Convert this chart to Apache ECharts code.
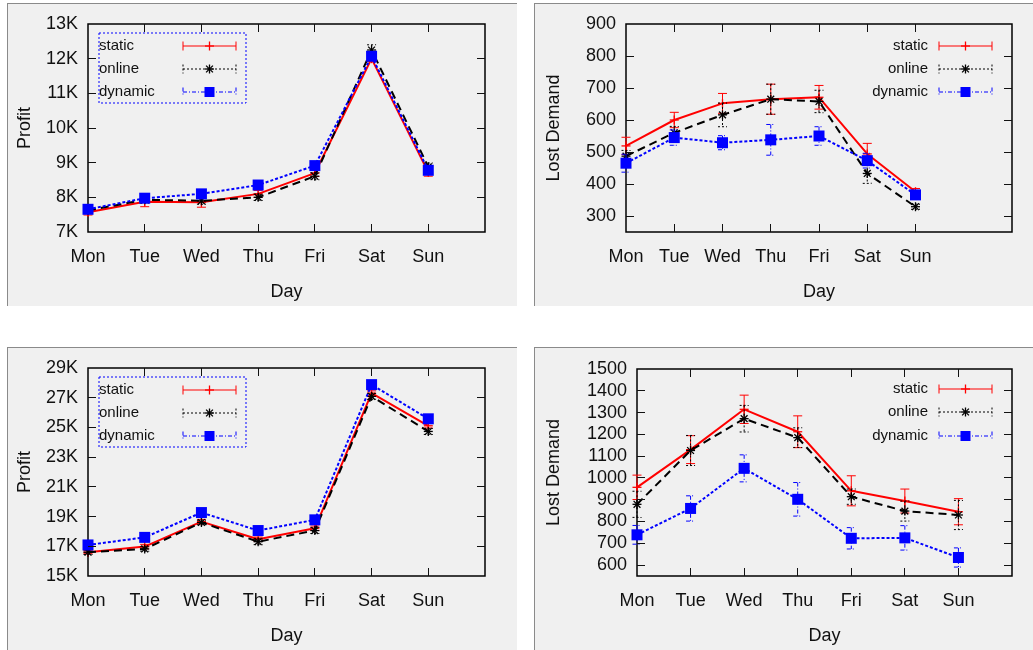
<!DOCTYPE html>
<html>
<head>
<meta charset="utf-8">
<script src="https://cdn.jsdelivr.net/npm/echarts@6/dist/echarts.min.js"></script>
<style>
  html, body { margin: 0; padding: 0; background: #fff; }
  #wrap { position: relative; width: 1033px; height: 650px; overflow: hidden; }
  .panel { position: absolute; background: #f0f0f0; border-left: 1px solid #8a8a8a; border-top: 1px solid #8a8a8a; }
  #chart { position: absolute; left: 0; top: 0; width: 1033px; height: 650px; }
  .tick { position: absolute; background: #111; z-index: 5; pointer-events: none; }
</style>
</head>
<body>
<div id="wrap">
  <div class="panel" style="left:7px;top:3px;width:509px;height:302px"></div>
  <div class="panel" style="left:534px;top:3px;width:499px;height:302px"></div>
  <div class="panel" style="left:7px;top:347px;width:509px;height:303px"></div>
  <div class="panel" style="left:534px;top:347px;width:499px;height:303px"></div>
  <div id="chart"></div>
</div>
<script>
const days = ['Mon', 'Tue', 'Wed', 'Thu', 'Fri', 'Sat', 'Sun'];
const seriesNames = ['static', 'online', 'dynamic'];

// top left: profit
const p1Static = [7570, 7875, 7860, 8100, 8700, 12000, 8720];
const p1StaticErr = [80, 145, 145, 100, 100, 80, 110];
const p1Online = [7620, 7930, 7900, 8000, 8610, 12250, 8880];
const p1OnlineErr = [80, 100, 100, 90, 100, 150, 110];
const p1Dynamic = [7655, 7975, 8100, 8355, 8915, 12070, 8780];
const p1DynamicErr = [60, 80, 100, 80, 60, 100, 80];
const p1YTicks = [8000, 9000, 10000, 11000, 12000];

// top right: lost demand
const p2Static = [519, 600, 652, 665, 671, 494, 376];
const p2StaticErr = [27, 24, 31, 47, 37, 33, 10];
const p2Online = [487, 560, 616, 665, 658, 433, 329];
const p2OnlineErr = [18, 20, 37, 47, 35, 31, 8];
const p2Dynamic = [465, 545, 529, 538, 550, 473, 366];
const p2DynamicErr = [28, 24, 22, 48, 29, 23, 14];
const p2YTicks = [300, 400, 500, 600, 700, 800];

// bottom left: profit
const p3Static = [16600, 16980, 18660, 17470, 18210, 27310, 25110];
const p3StaticErr = [100, 150, 150, 150, 150, 150, 150];
const p3Online = [16600, 16820, 18600, 17310, 18060, 27090, 24730];
const p3OnlineErr = [150, 150, 150, 200, 200, 200, 200];
const p3Dynamic = [17090, 17600, 19270, 18060, 18780, 27880, 25580];
const p3DynamicErr = [100, 100, 100, 100, 100, 100, 100];
const p3YTicks = [17000, 19000, 21000, 23000, 25000, 27000];

// bottom right: lost demand
const p4Static = [957, 1130, 1315, 1212, 941, 894, 845];
const p4StaticErr = [56, 64, 65, 73, 69, 55, 60];
const p4Online = [879, 1126, 1272, 1185, 914, 848, 830];
const p4OnlineErr = [60, 69, 61, 45, 35, 46, 67];
const p4Dynamic = [739, 860, 1044, 902, 723, 725, 635];
const p4DynamicErr = [43, 58, 62, 77, 49, 56, 44];
const p4YTicks = [600, 700, 800, 900, 1000, 1100, 1200, 1300, 1400];

const FONT = '"Liberation Sans", Arial, sans-serif';
const styles = {
  static:  { color: '#ff0000', line: 'solid', err: null, mark: 'plus' },
  online:  { color: '#000000', line: [8, 5], err: [2, 2], mark: 'star' },
  dynamic: { color: '#0000ff', line: [3, 2], err: [4, 2, 1, 2], mark: 'square' }
};

const panels = [
  { grid: { left: 88, top: 24, width: 397, height: 208 }, xMax: 7,
    y: { min: 7000, max: 13000, interval: 1000 }, k: true, yName: 'Profit', nameGap: 54, yTicks: p1YTicks,
    data: [[p1Static, p1StaticErr], [p1Online, p1OnlineErr], [p1Dynamic, p1DynamicErr]],
    legend: { box: true, x: 99, rows: [46, 69, 92], sx: 183, ex: 236 } },
  { grid: { left: 626, top: 24, width: 386, height: 208 }, xMax: 8,
    y: { min: 250, max: 900, minInterval: 100, maxInterval: 100 }, k: false, yName: 'Lost Demand', nameGap: 63, yTicks: p2YTicks,
    data: [[p2Static, p2StaticErr], [p2Online, p2OnlineErr], [p2Dynamic, p2DynamicErr]],
    legend: { box: false, x: 928, rows: [46, 69, 92], sx: 939, ex: 992 } },
  { grid: { left: 88, top: 368, width: 397, height: 208 }, xMax: 7,
    y: { min: 15000, max: 29000, interval: 2000 }, k: true, yName: 'Profit', nameGap: 54, yTicks: p3YTicks,
    data: [[p3Static, p3StaticErr], [p3Online, p3OnlineErr], [p3Dynamic, p3DynamicErr]],
    legend: { box: true, x: 99, rows: [390, 413, 436], sx: 183, ex: 236 } },
  { grid: { left: 637, top: 369, width: 375, height: 207 }, xMax: 7,
    y: { min: 550, max: 1500, minInterval: 100, maxInterval: 100 }, k: false, yName: 'Lost Demand', nameGap: 74, yTicks: p4YTicks,
    data: [[p4Static, p4StaticErr], [p4Online, p4OnlineErr], [p4Dynamic, p4DynamicErr]],
    legend: { box: false, x: 928, rows: [389, 412, 436], sx: 939, ex: 992 } }
];

function markShapes(kind, x, y, color, size) {
  const s = { stroke: color, lineWidth: 1.3 };
  if (kind === 'square') {
    return [{ type: 'rect', shape: { x: x - size / 2, y: y - size / 2, width: size, height: size }, style: { fill: color } }];
  }
  const h = 4.5;
  const out = [
    { type: 'line', shape: { x1: x - h, y1: y, x2: x + h, y2: y }, style: s },
    { type: 'line', shape: { x1: x, y1: y - h, x2: x, y2: y + h }, style: s }
  ];
  if (kind === 'star') {
    const d = 3.4;
    out.push({ type: 'line', shape: { x1: x - d, y1: y - d, x2: x + d, y2: y + d }, style: s });
    out.push({ type: 'line', shape: { x1: x - d, y1: y + d, x2: x + d, y2: y - d }, style: s });
  }
  return out;
}

function errorRender(st) {
  return function (params, api) {
    const x = api.value(0), y = api.value(1), e = api.value(2);
    const c = api.coord([x, y]);
    const hi = api.coord([x, y + e]);
    const lo = api.coord([x, y - e]);
    const cw = 4.5;
    const ls = { stroke: st.color, lineWidth: 1, lineDash: st.err };
    const children = [
      { type: 'line', shape: { x1: c[0], y1: hi[1], x2: c[0], y2: lo[1] }, style: ls },
      { type: 'line', shape: { x1: c[0] - cw, y1: hi[1], x2: c[0] + cw, y2: hi[1] }, style: ls },
      { type: 'line', shape: { x1: c[0] - cw, y1: lo[1], x2: c[0] + cw, y2: lo[1] }, style: ls }
    ].concat(markShapes(st.mark, c[0], c[1], st.color, 11));
    return { type: 'group', children: children };
  };
}

const grid = [], xAxis = [], yAxis = [], series = [], graphic = [];
const labelStyle = { color: '#111', fontSize: 18, fontFamily: FONT };

panels.forEach(function (p, i) {
  grid.push(Object.assign({ show: true, borderColor: '#000', borderWidth: 1.5, backgroundColor: 'transparent' }, p.grid));
  xAxis.push({
    type: 'value', gridIndex: i, min: 0, max: p.xMax, interval: 1, splitLine: { show: false },
    position: 'bottom', name: 'Day', nameLocation: 'middle', nameGap: 51,
    nameTextStyle: labelStyle, axisLine: { show: false, onZero: false }, axisTick: { show: false },
    axisLabel: Object.assign({ margin: 16, showMaxLabel: false, formatter: function (v) { return days[v] || ''; } }, labelStyle)
  });
  yAxis.push(Object.assign({
    type: 'value', gridIndex: i, splitLine: { show: false },
    position: 'left', name: p.yName, nameLocation: 'middle', nameGap: p.nameGap, nameRotate: 90,
    nameTextStyle: labelStyle, axisLine: { show: false, onZero: false }, axisTick: { show: false },
    axisLabel: Object.assign({ margin: 10, showMinLabel: !!p.k,
      formatter: function (v) { return p.k ? (v / 1000) + 'K' : String(v); } }, labelStyle)
  }, p.y));

  p.data.forEach(function (pair, j) {
    const name = seriesNames[j];
    const st = styles[name];
    series.push({
      type: 'line', name: name, xAxisIndex: i, yAxisIndex: i,
      data: pair[0].map(function (v, k) { return [k, v]; }),
      symbol: 'none', silent: true, z: 2 + j,
      lineStyle: { color: st.color, width: 2, type: st.line }
    });
    series.push({
      type: 'custom', name: name, xAxisIndex: i, yAxisIndex: i, z: 2 + j, silent: true,
      data: pair[0].map(function (v, k) { return [k, v, pair[1][k]]; }),
      encode: { x: 0, y: 1 },
      renderItem: errorRender(st)
    });
  });

  // legend drawn like the gnuplot key
  const lg = p.legend;
  if (lg.box) {
    graphic.push({ type: 'rect', shape: { x: lg.x, y: lg.rows[0] - 13, width: 147, height: 70 }, z: 10,
      style: { fill: 'none', stroke: '#0000ff', lineWidth: 1, lineDash: [2, 2] } });
  }
  seriesNames.forEach(function (name, j) {
    const st = styles[name];
    const y = lg.rows[j];
    const ls = { stroke: st.color, lineWidth: 1, lineDash: st.err };
    const mid = (lg.sx + lg.ex) / 2;
    graphic.push({ type: 'group', z: 10, children: [
      { type: 'text', style: { text: name, x: lg.x, y: y, fill: '#111',
        font: '15px ' + FONT, textAlign: lg.box ? 'left' : 'right', align: lg.box ? 'left' : 'right',
        textVerticalAlign: 'middle', verticalAlign: 'middle' } },
      { type: 'line', shape: { x1: lg.sx, y1: y, x2: lg.ex, y2: y }, style: ls },
      { type: 'line', shape: { x1: lg.sx, y1: y - 4.5, x2: lg.sx, y2: y + 4.5 }, style: ls },
      { type: 'line', shape: { x1: lg.ex, y1: y - 4.5, x2: lg.ex, y2: y + 4.5 }, style: ls }
    ].concat(markShapes(st.mark, mid, y, st.color, 10)) });
  });
});

const chart = echarts.init(document.getElementById('chart'));
chart.setOption({
  animation: false,
  textStyle: { fontFamily: FONT },
  grid: grid,
  xAxis: xAxis,
  yAxis: yAxis,
  series: series,
  graphic: graphic
});

// gnuplot style inward ticks on all four sides of each box, placed through the axes' scales
function toPixel(i, x, y) {
  let pt = null;
  try { pt = chart.convertToPixel({ seriesIndex: i * 6 }, [x, y]); } catch (e) { pt = null; }
  if (!pt || !isFinite(pt[0]) || !isFinite(pt[1])) {
    const p = panels[i], g = p.grid;
    pt = [g.left + x / p.xMax * g.width, g.top + g.height - (y - p.y.min) / (p.y.max - p.y.min) * g.height];
  }
  return pt;
}
const tickLen = 8;
const wrap = document.getElementById('wrap');
function addTick(x, y, w, h) {
  const d = document.createElement('div');
  d.className = 'tick';
  d.style.left = Math.round(x) + 'px';
  d.style.top = Math.round(y) + 'px';
  d.style.width = w + 'px';
  d.style.height = h + 'px';
  wrap.appendChild(d);
}
panels.forEach(function (p, i) {
  p.yTicks.forEach(function (v) {
    const a = toPixel(i, 0, v), b = toPixel(i, p.xMax, v);
    addTick(a[0], a[1] - 0.5, tickLen, 1);
    addTick(b[0] - tickLen, b[1] - 0.5, tickLen, 1);
  });
  days.forEach(function (d, k) {
    if (k === 0) return;
    const a = toPixel(i, k, p.y.min), b = toPixel(i, k, p.y.max);
    addTick(a[0] - 0.5, a[1] - tickLen, 1, tickLen);
    addTick(b[0] - 0.5, b[1], 1, tickLen);
  });
});
window.addEventListener('resize', function () { chart.resize(); });
</script>
</body>
</html>
